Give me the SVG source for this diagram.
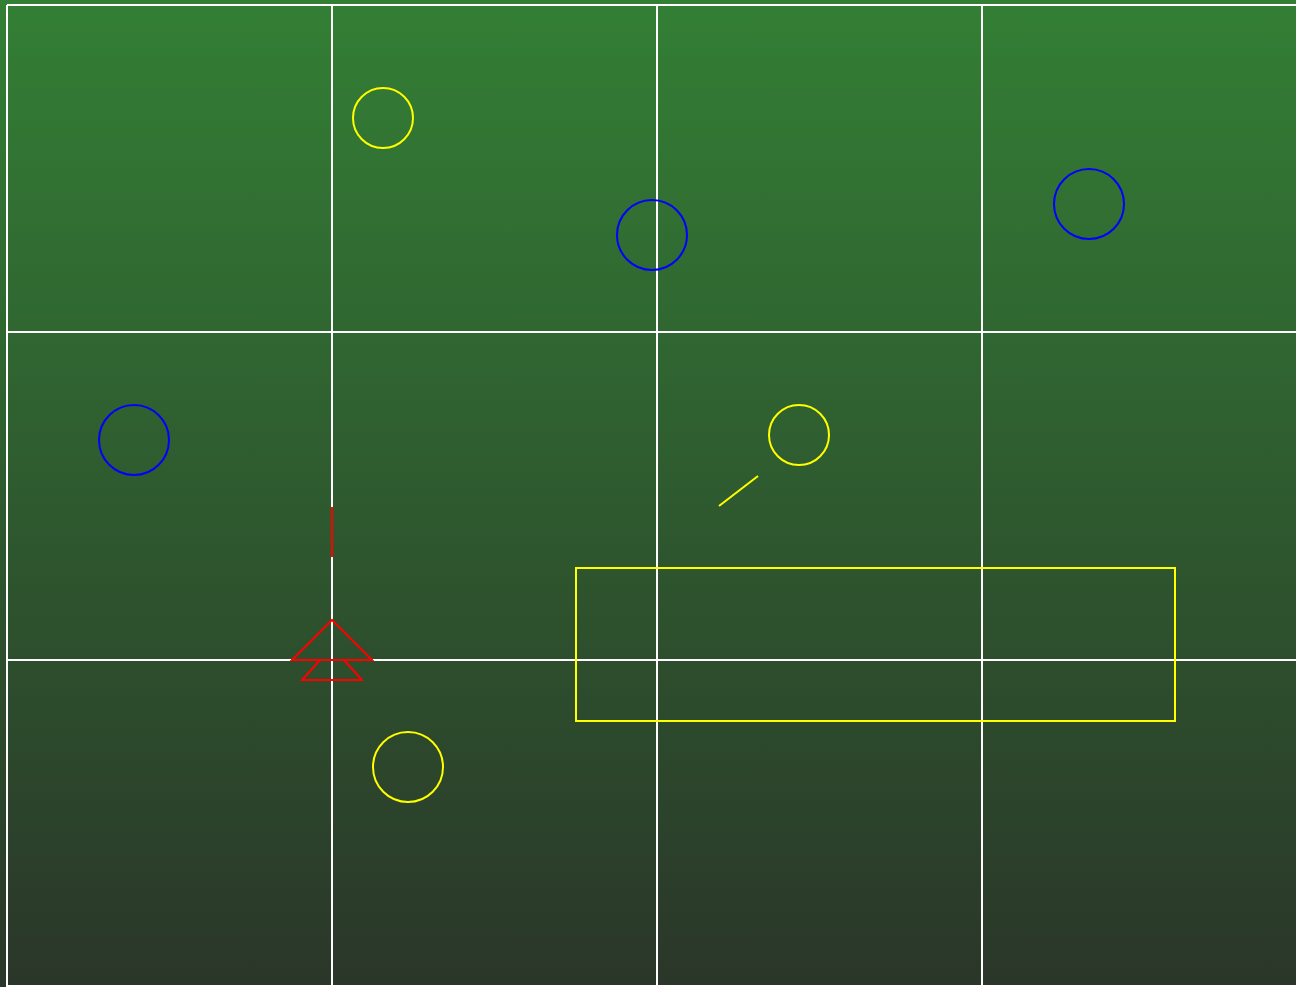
<svg xmlns="http://www.w3.org/2000/svg" width="1296" height="987" viewBox="0 0 1296 987">
<style>
.grid{stroke:#ffffff;stroke-width:2;fill:none}
.y{stroke:#ffff00;stroke-width:2;fill:none}
.b{stroke:#0000ff;stroke-width:2;fill:none}
.r{stroke:#ff0000;stroke-width:2;fill:none}
</style>
<defs>
<linearGradient id="bg" x1="0" y1="0" x2="0" y2="1">
<stop offset="0" stop-color="#337f35"/>
<stop offset="1" stop-color="#2a3629"/>
</linearGradient>
</defs>
<rect x="0" y="0" width="1296" height="987" fill="url(#bg)"/>
<g id="grid" class="grid">
<line x1="7" y1="5" x2="1296" y2="5"/>
<line x1="7" y1="332" x2="1296" y2="332"/>
<line x1="7" y1="660" x2="1296" y2="660"/>
<line x1="7" y1="986" x2="1296" y2="986"/>
<line x1="7" y1="5" x2="7" y2="987"/>
<line x1="332" y1="5" x2="332" y2="987"/>
<line x1="657" y1="5" x2="657" y2="987"/>
<line x1="982" y1="5" x2="982" y2="987"/>
</g>
<g id="yellow-circle-1"><circle class="y" cx="383" cy="118" r="30"/></g>
<g id="yellow-circle-2"><circle class="y" cx="799" cy="435" r="30"/></g>
<g id="yellow-circle-3"><circle class="y" cx="408" cy="767" r="35"/></g>
<g id="blue-circle-1"><circle class="b" cx="652" cy="235" r="35"/></g>
<g id="blue-circle-2"><circle class="b" cx="1089" cy="204" r="35"/></g>
<g id="blue-circle-3"><circle class="b" cx="134" cy="440" r="35"/></g>
<g id="yellow-rect"><rect class="y" x="576" y="568" width="599" height="153"/></g>
<g id="yellow-line"><line class="y" x1="719" y1="506" x2="758" y2="476"/></g>
<g id="red-marker">
<line class="r" x1="332" y1="507" x2="332" y2="557"/>
<polygon class="r" points="332,620 292,660 372,660"/>
<polyline class="r" points="320,660 302,680 362,680 344,660"/>
</g>
</svg>
